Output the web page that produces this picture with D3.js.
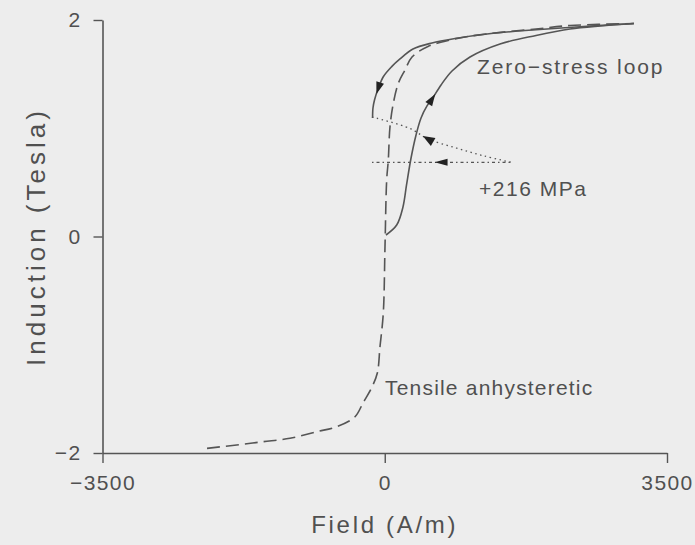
<!DOCTYPE html>
<html><head><meta charset="utf-8">
<script src="https://cdn.jsdelivr.net/npm/d3@7"></script>
<style>
html,body{margin:0;padding:0;background:#ededed;}
svg{display:block;}
</style></head>
<body>
<svg id="chart" width="695" height="545"></svg>
<script>
// ---- Data (Field H in A/m, Induction B in Tesla) ----
const xTicks = [-3500, 0, 3500];
const yTicks = [-2, 0, 2];

// Tensile anhysteretic curve (dashed)
const anhH = [-2204,-1836,-1510,-1175,-844,-596,-369,-270,-158,-92,-59,-18,3,24,44,65,106,168,251,338,536,834,1256,1876,2297,3090];
const anhB = [-1.957,-1.926,-1.896,-1.864,-1.803,-1.757,-1.665,-1.538,-1.390,-1.261,-1.018,-0.707,-0.094,0.522,0.707,1.014,1.230,1.415,1.538,1.658,1.755,1.820,1.871,1.917,1.949,1.967];

// Zero-stress loop, ascending branch (solid)
const ascH = [15,148,226,270,326,388,450,524,586,698,834,1057,1429,1876,2297,2669,3090];
const ascB = [0.014,0.106,0.273,0.476,0.725,0.938,1.095,1.206,1.270,1.400,1.529,1.658,1.778,1.857,1.917,1.945,1.967];

// Zero-stress loop, descending branch (solid)
const descH = [3090,2508,1876,1293,872,586,350,189,86,-18,-80,-127,-146,-151];
const descB = [1.967,1.942,1.910,1.873,1.829,1.788,1.732,1.640,1.569,1.476,1.369,1.261,1.187,1.095];

// +216 MPa stress path (dotted)
const stressH = [-158,313,536,884,1231,1578];
const stressB = [1.104,0.998,0.901,0.818,0.744,0.684];

// +216 MPa horizontal field sweep (dotted)
const sweepH = [-158,1578];
const sweepB = [0.685,0.685];

// Arrow heads: [H, B, H toward, B toward]
const arrowDesc = [-80,1.369,-127,1.261];
const arrowAsc = [586,1.270,698,1.400];
const arrowStress = [536,0.901,313,0.998];
const arrowSweep = [698,0.685,400,0.685];

// Annotations
const labelText = ["Zero\u2212stress loop","+216 MPa","Tensile anhysteretic"];
const labelH = [1144,1169,3];
const labelB = [1.501,0.374,-1.464];
const labelSpacing = [1.9,1.5,1.2];

// ---- Drawing ----
const svg = d3.select("#chart");
const W = 695, H = 545;
svg.append("rect").attr("width",W).attr("height",H).attr("fill","#ededed");

const x = d3.scaleLinear().domain([-3500,3500]).range([102.5,667]);
const y = d3.scaleLinear().domain([-2,2]).range([453,20]);

const ink = "#555";
const txt = "#505050";
const font = "'Liberation Sans', Arial, Helvetica, sans-serif";

// axes
const gx = svg.append("g").attr("transform",`translate(0,${y(-2)})`)
  .call(d3.axisBottom(x).tickValues(xTicks).tickSize(10).tickSizeOuter(0).tickPadding(12)
    .tickFormat(d => d < 0 ? "\u2212" + Math.abs(d) : d));
const gy = svg.append("g").attr("transform",`translate(${x(-3500)},0)`)
  .call(d3.axisLeft(y).tickValues(yTicks).tickSize(9).tickSizeOuter(0).tickPadding(12)
    .tickFormat(d => d < 0 ? "\u2212" + Math.abs(d) : d));
[gx,gy].forEach(g => {
  g.select(".domain").attr("stroke",ink).attr("stroke-width",1.6);
  g.selectAll(".tick line").attr("stroke",ink).attr("stroke-width",1.4);
  g.selectAll(".tick text").attr("fill",txt).attr("font-family",font)
    .attr("font-size",21).attr("letter-spacing",1.4);
});

// axis titles
svg.append("text").attr("x",(x(-3500)+x(3500))/2).attr("y",533)
  .attr("text-anchor","middle").attr("font-family",font).attr("font-size",24)
  .attr("letter-spacing",2.7).attr("fill",txt).text("Field (A/m)");
svg.append("text").attr("transform",`translate(45,${y(0)}) rotate(-90)`)
  .attr("text-anchor","middle").attr("font-family",font).attr("font-size",26)
  .attr("letter-spacing",4).attr("fill",txt).text("Induction (Tesla)");

const zip = (hs, bs) => hs.map((h,i) => [h, bs[i]]);
const line = d3.line().x(d => x(d[0])).y(d => y(d[1])).curve(d3.curveCatmullRom.alpha(0.5));
const straight = d3.line().x(d => x(d[0])).y(d => y(d[1]));

svg.append("path").attr("d", line(zip(anhH, anhB))).attr("fill","none")
  .attr("stroke",ink).attr("stroke-width",1.6).attr("stroke-dasharray","13,6");
svg.append("path").attr("d", line(zip(ascH, ascB))).attr("fill","none")
  .attr("stroke",ink).attr("stroke-width",1.6);
svg.append("path").attr("d", line(zip(descH, descB))).attr("fill","none")
  .attr("stroke",ink).attr("stroke-width",1.6);
svg.append("path").attr("d", line(zip(stressH, stressB))).attr("fill","none")
  .attr("stroke",ink).attr("stroke-width",1.3).attr("stroke-dasharray","1.5,3.5");
svg.append("path").attr("d", straight(zip(sweepH, sweepB))).attr("fill","none")
  .attr("stroke",ink).attr("stroke-width",1.3).attr("stroke-dasharray","1.5,3,3,3");

// arrow heads
function arrow(a, len, wid) {
  const px = x(a[0]), py = y(a[1]);
  const ang = Math.atan2(y(a[3]) - py, x(a[2]) - px) * 180 / Math.PI;
  svg.append("path")
    .attr("d", `M${len/2},0 L${-len/2},${-wid/2} L${-len/2},${wid/2} Z`)
    .attr("transform", `translate(${px},${py}) rotate(${ang})`)
    .attr("fill","#222");
}
arrow(arrowDesc, 12, 8);
arrow(arrowAsc, 12, 8);
arrow(arrowStress, 12, 9);
arrow(arrowSweep, 13, 7);

// annotations
svg.selectAll("text.lab").data(labelText).enter().append("text").attr("class","lab")
  .attr("x",(d,i) => x(labelH[i])).attr("y",(d,i) => y(labelB[i]))
  .attr("font-family",font).attr("font-size",21).attr("letter-spacing",(d,i) => labelSpacing[i])
  .attr("fill",txt).text(d => d);
</script>
</body></html>
